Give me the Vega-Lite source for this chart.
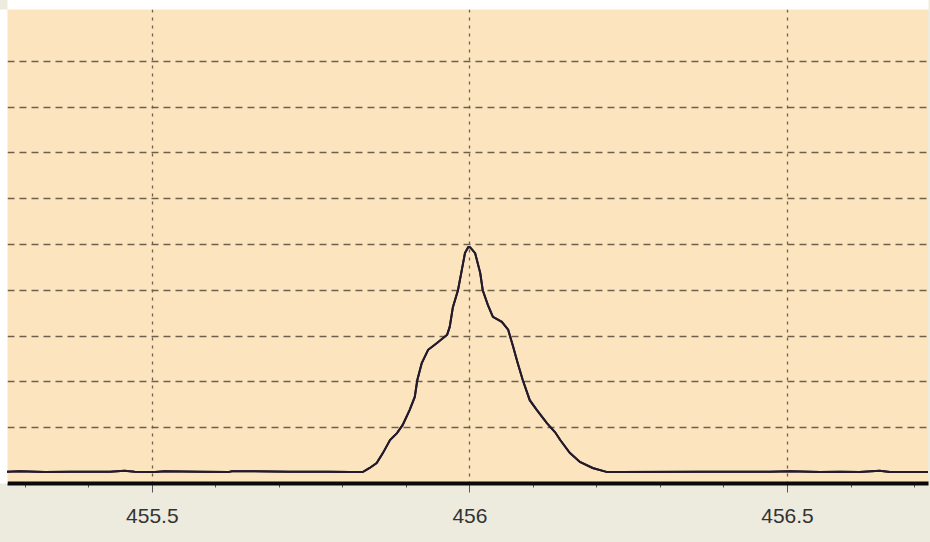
{
  "$schema": "https://vega.github.io/schema/vega-lite/v6.json",
  "autosize": "none",
  "width": 921,
  "height": 474,
  "padding": {"left": 7, "top": 9, "right": 2, "bottom": 59},
  "background": "#ecebde",
  "config": {
    "view": {"fill": "#fce4bf", "stroke": null},
    "font": "Liberation Sans"
  },
  "data": {
    "values": [
      {"x": 455.272, "y": 0.03}, {"x": 455.292, "y": 0.04}, {"x": 455.332, "y": 0.02},
      {"x": 455.371, "y": 0.03}, {"x": 455.434, "y": 0.03}, {"x": 455.457, "y": 0.05},
      {"x": 455.473, "y": 0.03}, {"x": 455.505, "y": 0.02}, {"x": 455.520, "y": 0.04},
      {"x": 455.576, "y": 0.03}, {"x": 455.620, "y": 0.02}, {"x": 455.626, "y": 0.04},
      {"x": 455.717, "y": 0.03}, {"x": 455.780, "y": 0.03}, {"x": 455.812, "y": 0.02},
      {"x": 455.832, "y": 0.02}, {"x": 455.843, "y": 0.11}, {"x": 455.854, "y": 0.22},
      {"x": 455.864, "y": 0.44}, {"x": 455.875, "y": 0.72}, {"x": 455.886, "y": 0.87},
      {"x": 455.895, "y": 1.05}, {"x": 455.906, "y": 1.38}, {"x": 455.914, "y": 1.66},
      {"x": 455.918, "y": 2.03}, {"x": 455.925, "y": 2.40}, {"x": 455.935, "y": 2.69},
      {"x": 455.949, "y": 2.84}, {"x": 455.965, "y": 3.02}, {"x": 455.969, "y": 3.19},
      {"x": 455.974, "y": 3.62}, {"x": 455.982, "y": 3.99}, {"x": 455.988, "y": 4.43},
      {"x": 455.993, "y": 4.80}, {"x": 455.998, "y": 4.93}, {"x": 456.001, "y": 4.93},
      {"x": 456.009, "y": 4.80}, {"x": 456.017, "y": 4.37}, {"x": 456.021, "y": 3.99},
      {"x": 456.029, "y": 3.67}, {"x": 456.037, "y": 3.41}, {"x": 456.051, "y": 3.30},
      {"x": 456.061, "y": 3.13}, {"x": 456.069, "y": 2.75}, {"x": 456.076, "y": 2.40},
      {"x": 456.084, "y": 2.03}, {"x": 456.095, "y": 1.59}, {"x": 456.106, "y": 1.38},
      {"x": 456.122, "y": 1.09}, {"x": 456.135, "y": 0.89}, {"x": 456.143, "y": 0.72},
      {"x": 456.158, "y": 0.44}, {"x": 456.174, "y": 0.24}, {"x": 456.194, "y": 0.11},
      {"x": 456.217, "y": 0.02}, {"x": 456.237, "y": 0.02}, {"x": 456.363, "y": 0.03},
      {"x": 456.473, "y": 0.03}, {"x": 456.505, "y": 0.04}, {"x": 456.552, "y": 0.02},
      {"x": 456.583, "y": 0.03}, {"x": 456.614, "y": 0.02}, {"x": 456.646, "y": 0.05},
      {"x": 456.662, "y": 0.02}, {"x": 456.722, "y": 0.02}
    ]
  },
  "resolve": {"axis": {"x": "independent", "y": "independent"}},
  "layer": [
    {
      "mark": {"type": "line", "color": "#231a2b", "strokeWidth": 2, "clip": true},
      "encoding": {
        "x": {
          "field": "x",
          "type": "quantitative",
          "scale": {"domain": [455.272, 456.722], "nice": false, "zero": false},
          "axis": {
            "title": null,
            "values": [455.3, 455.4, 455.5, 455.6, 455.7, 455.8, 455.9, 456, 456.1, 456.2, 456.3, 456.4, 456.5, 456.6, 456.7],
            "labelExpr": "round(datum.value*10) % 5 == 0 ? format(datum.value, '~g') : ''",
            "labelFontSize": 21,
            "labelColor": "#333333",
            "labelPadding": 13,
            "labelFlush": false,
            "labelOverlap": false,
            "domainColor": "#0a0a0a",
            "domainWidth": 4,
            "tickColor": "#555555",
            "tickWidth": 1,
            "tickSize": {"condition": {"test": "round(datum.value*10) % 5 == 0", "value": 9}, "value": 4},
            "grid": true,
            "gridColor": "#6e5f4c",
            "gridWidth": 1.3,
            "gridDash": [3, 5],
            "gridOpacity": {"condition": {"test": "round(datum.value*10) % 5 == 0", "value": 1}, "value": 0}
          }
        },
        "y": {
          "field": "y",
          "type": "quantitative",
          "scale": {"domain": [-0.218, 10.13], "nice": false, "zero": false},
          "axis": {
            "title": null,
            "values": [1, 2, 3, 4, 5, 6, 7, 8, 9],
            "labels": false,
            "ticks": false,
            "domain": true,
            "domainColor": "#ffffff",
            "domainWidth": 14,
            "offset": 7,
            "grid": true,
            "gridColor": "#6e5f4c",
            "gridWidth": 1.3,
            "gridDash": [7, 5]
          }
        }
      }
    },
    {
      "mark": {"type": "line", "color": "#231a2b", "strokeWidth": 2, "clip": true},
      "encoding": {
        "x": {
          "field": "x",
          "type": "quantitative",
          "scale": {"domain": [455.272, 456.722], "nice": false, "zero": false},
          "axis": {
            "orient": "top",
            "title": null,
            "labels": false,
            "ticks": false,
            "grid": false,
            "domain": true,
            "domainColor": "#ffffff",
            "domainWidth": 18,
            "offset": 9
          }
        },
        "y": {
          "field": "y",
          "type": "quantitative",
          "scale": {"domain": [-0.218, 10.13], "nice": false, "zero": false},
          "axis": null
        }
      }
    }
  ]
}
